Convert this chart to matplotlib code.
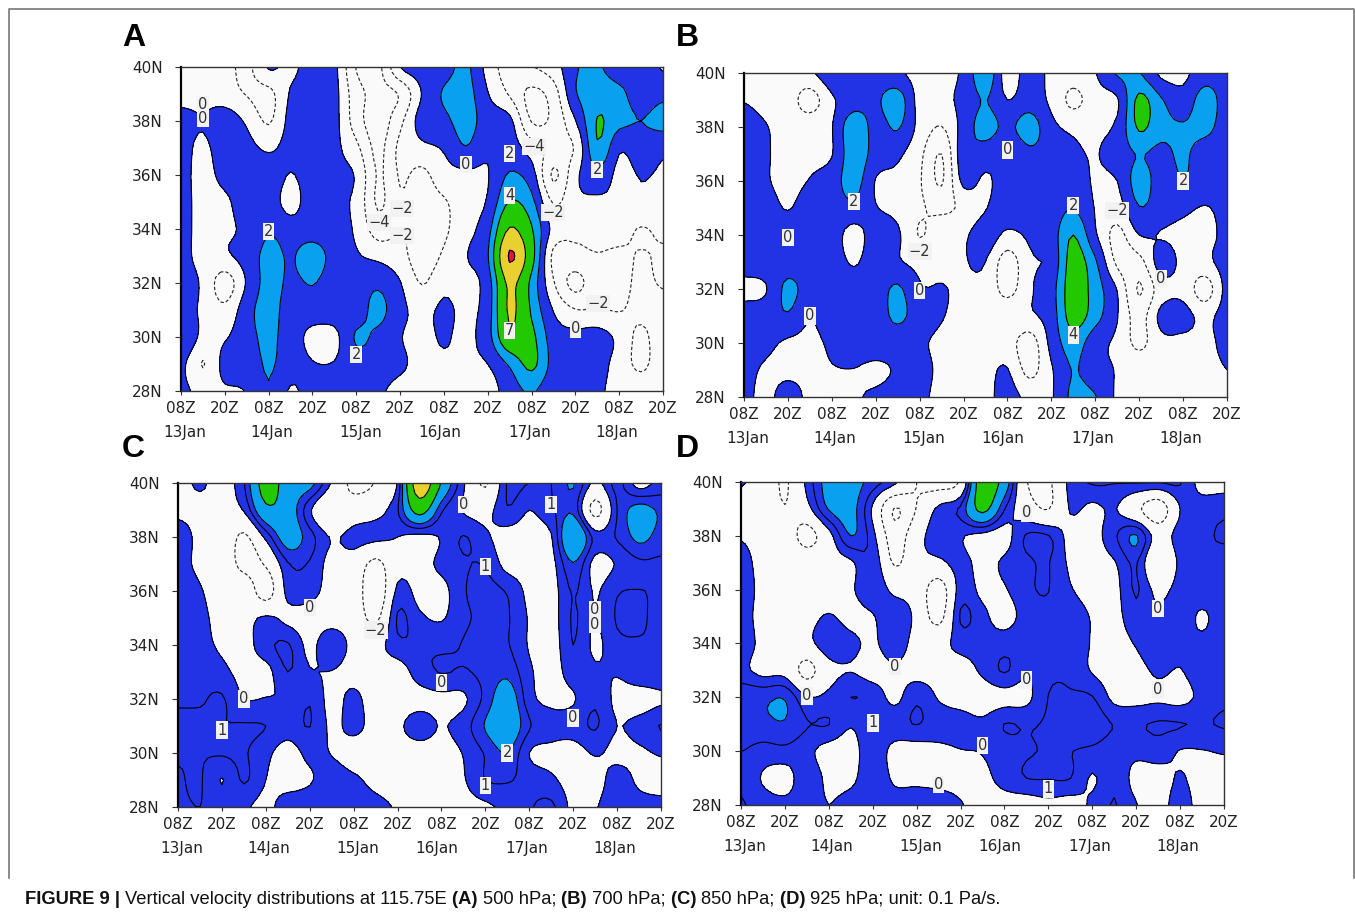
import numpy as np
import matplotlib
matplotlib.use('Agg')
import matplotlib.pyplot as plt
from matplotlib.lines import Line2D

# 6-hourly steps from 13Jan 08Z to 18Jan 20Z, 1 degree rows from 40N to 28N
lats = [40, 39, 38, 37, 36, 35, 34, 33, 32, 31, 30, 29, 28]
steps = list(range(23))
hour_labels = ['08Z', '20Z'] * 6
lat_ticks = [28, 30, 32, 34, 36, 38, 40]
day_labels = ['13Jan', '14Jan', '15Jan', '16Jan', '17Jan', '18Jan']
day_steps = [0.15, 4.15, 8.2, 11.8, 15.9, 19.9]

panel_a = [
    [-.5, -.8, -1.2, -2.5, .2, -.5, 1, .5, -4.1, -4.5, 0, 1, 1.2, 2.4, -.7, -3, -2.1, -1, 1.8, 2.2, 1, 1, -.2],
    [-.5, -.5, -1, -2.1, -2.6, .2, 1, .6, -3.2, -4.5, -3.8, .1, 2.2, 2.8, .1, -2.2, -4.5, -3, 1.8, 3, 2.5, 1, 1.5],
    [.5, .1, 1, -.3, -2.2, .6, 1, .6, -3, -5, -2.5, .9, 1.5, 2.8, 1, .5, -4.1, -3.5, -.1, 4.1, 2.6, 2, 2.7],
    [.5, -.3, .8, .6, -.3, .7, 1, .5, -1.5, -4.5, -1.5, -.5, .2, 1.9, .3, 1, -1, -2.5, -1.8, 3.7, .3, 1, .4],
    [.5, -.5, .5, 1, 1.2, -.1, 1, .5, -.2, -4.2, -1.8, -2.5, -.8, -.4, -.1, 2.2, .9, -4.3, -.5, 1.4, -.5, .1, -.2],
    [.5, -.5, -.3, .9, 1.2, -.8, 1.2, .5, -.5, -4.3, -2.2, -2.7, -2.2, -.8, .2, 4.1, 2.6, -2.2, -.5, -.4, -.3, -.3, -.3],
    [.5, -.5, -.3, .4, 1.8, 1, 1, .7, -.3, -3, -2, -2.5, -2.3, -.6, 1.2, 7.2, 4.2, -.6, -1.6, -1.2, -1.3, -2.1, -1.6],
    [.5, -.5, -.3, .8, 2.6, 1.8, 3, 1.2, .2, -.5, -1.3, -3, -1.7, -.1, 1.8, 10.3, 5, -2.5, -2.5, -2.1, -2.3, -1.9, -2.2],
    [.7, -.3, -3, .2, 2.7, 1.6, 2.1, 1, 1, 1.6, .1, -2.1, -.5, -.6, 1, 7.6, 3.4, -1.8, -4.6, -2.5, -2.6, -1.6, -2.2],
    [.7, -.3, -1.5, 1.2, 2.8, 1, 1, 1, 1, 2.6, .5, -.5, .3, -.3, 1, 7.4, 3.7, -.1, -1.9, -1.8, -2.1, -1.4, -1],
    [2.1, -.5, -.2, 1.3, 2.4, 1, -.5, -.5, 2.2, 1.5, .1, -.5, .2, -.4, 1.2, 6.3, 4.6, 1, .6, .8, -.5, -2.5, -.5],
    [.5, -2.1, .6, 1, 2.2, 1, .1, .1, 1.2, 1, .3, -.5, -.3, -.2, 0, 2.3, 4.5, 1.3, .7, .6, -.7, -2.5, -.5],
    [.4, -.5, -.2, .1, 1.9, -.2, .8, 1, 1, .3, -.5, -.5, -.5, -.5, -.9, 1, 2.2, .6, .5, .3, -.6, -.5, -.3],
]

panel_b = [
    [-.8, -.8, -.8, -.3, 1.3, 1.8, 1, .3, -.7, -.7, .4, 3.5, -1, 1, -.5, -1, -.1, 2.2, 2.1, -.4, -.4, 1, 1],
    [-.1, -.7, -1, -2.9, -.3, 1, 1.6, 3, -.7, -.6, .6, 2.1, 0, 1, -.4, -2.5, -.8, -.2, 4.5, 2.2, .7, 3, 1],
    [1, .1, -.7, -.6, -.1, 3.5, 1.2, 2.2, -.6, -2.05, .8, 2.8, 1.5, 3, .5, -.4, -.4, .4, 4.3, 2.6, 2.2, 2.6, 1],
    [1, .2, -.7, -.5, -.1, 3.3, 1.1, .4, -1.5, -4, 1.3, 1, 0, 1.5, 1.2, .4, -.1, 1, 2.1, 1.5, 2.3, 1, 1],
    [1, .2, -.6, .1, 1, 2.9, -.1, -.5, -1.8, -4.2, .5, -.3, 1, 1, 1, 1, -.2, 0, 2.9, 1.1, 1.9, 1, 1],
    [1, .8, -.1, 1, 1, 1.5, .1, -.5, -1.7, -2.5, -1.5, -.1, 1, 1, 1, 1.95, -.1, -.8, 1.9, 1, .4, -.1, .5],
    [1, 1, 1, 1, 1, -.8, 1, .3, -2.1, -.6, -.3, 1, -.4, .3, 1, 4, .3, -2.6, 0, -.1, -.5, -.5, .4],
    [1, 1, 1, 1, 1, -.2, 1, .2, -.5, -.5, -.1, 0, -3, -.3, .5, 5, 2.3, -2.4, -2.7, .9, -.5, -.5, .8],
    [-.6, -.1, 2.5, 1, 1, 1, 1, 2.3, .2, .1, -.3, -.5, -2.7, -.3, 1.2, 5.2, 3, -.1, -4.2, -.9, -.6, -3, .6],
    [1, 1, 1.8, .1, 1, 1, 1, 2.4, 1, .1, -.4, -.5, -.4, -.3, 1, 5, 2.8, .1, -2.8, .5, .6, -.5, .8],
    [1, .5, -.3, -.4, .3, 1, 1, .8, .3, -.4, -.5, -.6, -1, -3, .6, 3, .7, -.4, -2.5, -.5, -.4, -.4, .4],
    [.6, -.3, -.5, -.4, -.1, -.05, -.4, .2, .6, -.4, -.5, -.5, .1, -2.6, -.2, 2.1, .7, -.1, -.5, -.4, -.4, -.4, 0],
    [.5, -.5, .9, -.5, -.6, -.2, .3, .7, .4, -.5, -.5, -.5, .7, -.5, -.2, 2.5, 2.1, -.3, -.5, -.5, -.5, -.5, -.1],
]

panel_c = [
    [-.5, .2, -.5, .9, 5, 3, 2.5, -.1, -2.5, -1.9, .1, 9, 3.8, .2, -2.2, 1.1, 1, 1, 2.1, -.3, 1.3, -.5, .4],
    [-.5, -.5, -.5, .1, 3.5, 3, .2, -1.9, -1, -.5, .9, 5, 1.2, -.1, -.5, .9, 0, .8, 1.7, -2.6, 1, 2.5, 1.8],
    [1, -.5, -.5, -2.3, .3, 2.8, 1.4, -.1, .4, .3, 0, -.4, .1, 1.05, .2, -.5, -.5, -.1, 3.9, .6, 1.1, 2.3, 1.6],
    [.5, -.3, -.5, -2.6, -1.8, .9, .9, -.5, -.7, -2.5, -.5, -.5, .3, .9, .9, -.4, -.5, -.4, 1.9, -.4, .1, .8, .8],
    [.9, .1, -.5, -.5, -2.9, .4, .4, -.5, -.7, -3.5, .3, -.4, -.4, .9, 1.3, .9, -.3, -.5, 1.1, -.1, .9, 1.02, .9],
    [.7, .3, -.4, -.5, .2, -.3, -.5, -.6, -.8, -2.4, 1.1, .2, -.1, .8, 1.2, 1.1, -.1, -.5, 1.1, -.05, 1.1, 1.2, .6],
    [.8, .4, -.2, -.5, .7, 1.1, -.3, .9, -.4, -.5, .7, .9, .8, 1.05, 1.5, 1.1, -.1, -.6, 1, -.2, .7, .9, .9],
    [.8, .7, .3, -.4, -.4, 1, .1, -.05, -.5, -.6, -.6, .5, 1.05, .9, 1.3, 1.7, .2, -.5, .5, .2, .1, .8, .8],
    [.9, .9, 1.1, 0, .05, .1, .9, -.4, .3, -.7, -.6, -.4, -.3, -.2, 1.3, 2.9, .4, -.3, -.1, .8, -.3, -.6, -.2],
    [1.2, 1.2, 1, 1.1, 1, .5, 1.02, -.2, .3, -.4, -.2, .5, -.05, .5, 2.1, 3.3, 1.1, .5, .5, 1.1, 0, .4, 1.05],
    [1.1, 1.05, 1.1, 1.1, .3, -.5, .3, -.05, -.5, -.5, -.5, -.5, -.4, .05, 1.1, 2, 0, -.3, -.5, .1, -.3, -.2, .1],
    [.9, 1.1, -.05, 1.1, 0, -.5, -.1, .5, .2, -.3, -.5, -.5, -.5, -.1, 1, 1.1, .6, .2, -.5, -.5, .5, -.2, -.4],
    [.9, 1, .8, .2, -.3, .6, .7, .7, .6, .3, -.1, -.4, -.4, -.4, -.2, .3, .9, 1.2, -.3, -.1, .8, .4, .3],
]

panel_d = [
    [.1, -.6, -2.2, .3, 2.6, 2.6, 1.5, .3, -2, -2.8, -1.7, 5.5, 3, -1.9, -2.3, .4, 1.1, 1.05, 1.1, 1.1, 1.1, -.5, -.5],
    [-.5, -.5, -1.9, -.5, 2.1, 2.5, -.2, -4.1, -1.9, .3, 1.2, 4.6, 1.05, -1, -2.05, .1, -.3, .1, -1.5, -3.2, 0, .6, .8],
    [-.1, -.5, -.7, -2.7, -.5, 2, .4, -3, -.6, .5, .1, -.4, -.5, 1.1, 1.05, -.4, -.5, .8, 2.1, -.7, .6, .9, 1.05],
    [.5, -.5, -.7, -.6, -.6, -.2, .9, -2.2, -.5, -.3, .4, -.4, .2, .8, 1.05, -.2, -.5, -.1, 1.1, -1.9, .3, .8, .8],
    [.7, -.4, -.5, -.5, -.7, -.2, .9, -.4, -.7, -3, .5, -.3, -.1, .8, 1.02, .1, -.5, -.4, 1.1, -.4, .5, .8, .8],
    [.6, -.5, -.5, -.4, .1, -.4, -.1, .9, -.4, -2.6, 1.1, .3, -.5, .5, .8, .7, -.1, -.4, .7, .2, .8, -.2, .8],
    [.8, -.4, -.5, -.4, .7, .3, -.2, .7, -.5, -.5, .4, .4, .6, .8, .8, .8, -.1, -.5, .1, .9, .4, .3, .8],
    [.3, -.4, -.5, -2.6, -.5, -.05, -.5, -.2, -.5, -.5, -.5, .2, 1.1, .2, .8, .8, -.1, -.6, -.4, .2, -.05, .7, .8],
    [1.85, 1.75, 1.9, .1, .3, 1, .7, -.3, .8, -.1, -.5, -.6, -.4, -.3, 1.02, 1.1, 1.05, -.3, -.4, -.2, -.4, .3, .8],
    [1.85, 1.75, 1.9, 1.05, 1.02, .1, .9, .7, 1.02, .6, .5, .2, 1.02, .9, 1.1, 1.3, 1.6, .95, .9, 1.1, 1.05, .9, 1.1],
    [1.02, .6, .7, .3, -.5, -.5, .7, -.4, -.5, -.3, -.05, .05, .5, .9, 1.05, 1.02, .8, .5, .3, .5, -.05, -.05, .1],
    [.8, -.1, -.5, .7, -.3, -.3, .8, -.2, -.3, -.5, -.5, -.3, .4, 1, 1.05, 1.02, -.1, .8, -.4, -.5, .1, -.5, -.5],
    [1.1, .5, .3, .5, 0, .5, .8, .5, .7, .8, .1, -.5, -.5, -.6, -.3, -.5, .2, 1.05, .05, -.5, .5, -.5, -.5],
]

# contour labels: step, latitude, text
labels_a = [(1, 38.6, '0'), (1, 38.1, '0'), (13, 36.4, '0'), (18, 30.3, '0'), (4, 33.9, '2'), (8, 29.35, '2'),
            (15, 36.8, '2'), (15, 35.25, '4'), (15, 30.25, '7'), (19, 36.2, '2'), (10.1, 34.75, '−2'),
            (10.1, 33.75, '−2'), (9.05, 34.25, '−4'), (16.1, 37.05, '−4'), (17, 34.6, '−2'), (19.05, 31.25, '−2')]
labels_b = [(2, 33.9, '0'), (3, 31, '0'), (5, 35.25, '2'), (8, 31.95, '0'), (12, 37.15, '0'), (15, 35.1, '2'),
            (15, 30.3, '4'), (20, 36, '2'), (19, 32.4, '0'), (8, 33.4, '−2'), (17, 34.9, '−2')]
labels_c = [(3, 32, '0'), (2, 30.85, '1'), (6, 35.4, '0'), (13, 39.2, '0'), (17, 39.2, '1'), (14, 36.9, '1'),
            (12, 32.6, '0'), (15, 30, '2'), (14, 28.8, '1'), (18, 31.3, '0'), (19, 35.3, '0'), (19, 34.75, '0'),
            (9, 34.55, '−2')]
labels_d = [(3, 32.05, '0'), (6, 31.05, '1'), (7, 33.15, '0'), (9, 28.75, '0'), (11, 30.2, '0'), (13, 38.85, '0'),
            (13, 32.65, '0'), (14, 28.6, '1'), (19, 35.3, '0'), (19, 32.3, '0')]

fill_levels = [0, 2, 4, 7, 10, 100]
fill_colors = ['#2233e6', '#0aa0f0', '#22c800', '#e8d030', '#e0143c']

W, H = 1355, 914
fig = plt.figure(figsize=(W / 100, H / 100), dpi=100, facecolor='white')


# contour smoothing like the original plot package does it (cubic, through the grid values)
def csmooth_axis(z, n, axis):
    z = np.moveaxis(z, axis, 0)
    N = z.shape[0]
    pos = np.linspace(0, N - 1, (N - 1) * n + 1)
    i = np.minimum(pos.astype(int), N - 2)
    f = (pos - i).reshape(-1, *([1] * (z.ndim - 1)))
    p0 = z[np.maximum(i - 1, 0)]
    p1 = z[i]
    p2 = z[i + 1]
    p3 = z[np.minimum(i + 2, N - 1)]
    out = 0.5 * (2 * p1 + (p2 - p0) * f + (2 * p0 - 5 * p1 + 4 * p2 - p3) * f ** 2 + (3 * p1 - p0 - 3 * p2 + p3) * f ** 3)
    return np.moveaxis(out, 0, axis)


def draw_panel(box, z, line_levels, labels, letter, letter_xy):
    left, top, right, bottom = box
    ax = fig.add_axes([left / W, 1 - bottom / H, (right - left) / W, (bottom - top) / H])
    ax.set_facecolor('#fafafa')
    n = 5
    zs = csmooth_axis(csmooth_axis(np.array(z, dtype=float), n, 0), n, 1)
    xs = np.linspace(steps[0], steps[-1], (len(steps) - 1) * n + 1)
    ys = np.linspace(lats[0], lats[-1], (len(lats) - 1) * n + 1)
    ax.contourf(xs, ys, zs, levels=fill_levels, colors=fill_colors)
    ax.contour(xs, ys, zs, levels=line_levels, colors='black', linewidths=0.8, linestyles='solid')
    ax.contour(xs, ys, zs, levels=[-4, -2], colors='#222222', linewidths=0.8, linestyles=[(0, (3, 2))])
    for t, lat, s in labels:
        ax.text(t, lat, s, ha='center', va='center', fontsize=10.5, color='#333333', zorder=5,
                bbox=dict(facecolor='#f2f2f2', edgecolor='none', pad=0.8))
    ax.set_xlim(0, 22)
    ax.set_ylim(28, 40)
    ax.set_xticks(steps[::2])
    ax.set_xticklabels(hour_labels)
    ax.set_yticks(lat_ticks)
    ax.set_yticklabels([str(v) + 'N' for v in lat_ticks])
    ax.tick_params(axis='x', length=3, width=0.8, pad=4, labelsize=11, labelcolor='#222222', color='#333333')
    ax.tick_params(axis='y', length=4, width=0.8, pad=9, labelsize=11, labelcolor='#222222', color='#333333')
    for sp in ax.spines.values():
        sp.set_linewidth(1.0)
        sp.set_color('#333333')
    ax.spines['left'].set_linewidth(1.6)
    ax.spines['left'].set_color('black')
    for d, s in zip(day_steps, day_labels):
        ax.text(d, -0.127, s, transform=ax.get_xaxis_transform(), ha='center', va='center',
                fontsize=11, color='#222222')
    fig.text(letter_xy[0] / W, 1 - letter_xy[1] / H, letter, fontsize=23, fontweight='bold',
             family='Liberation Sans', ha='left', va='center', color='black')


draw_panel((181, 67, 663, 391), panel_a, [0, 2, 4, 7, 10], labels_a, 'A', (122, 38))
draw_panel((744, 73, 1227, 397), panel_b, [0, 2, 4, 7, 10], labels_b, 'B', (676, 38))
draw_panel((178, 483, 661, 807), panel_c, [0, 1, 2, 4, 7, 10], labels_c, 'C', (122, 449))
draw_panel((741, 482, 1224, 805), panel_d, [0, 1, 2, 4, 7, 10], labels_d, 'D', (676, 449))

# outer frame, open at the bottom
frame_x = [9 / W, 9 / W, 1354 / W, 1354 / W]
frame_y = [1 - 878 / H, 1 - 9 / H, 1 - 9 / H, 1 - 878 / H]
fig.add_artist(Line2D(frame_x, frame_y, color='#777777', linewidth=1.2))

# caption, regular and bold pieces one after the other
caption = [('FIGURE 9 | ', True), ('Vertical velocity distributions at 115.75E ', False), ('(A) ', True),
           ('500 hPa; ', False), ('(B) ', True), ('700 hPa; ', False), ('(C) ', True), ('850 hPa; ', False),
           ('(D) ', True), ('925 hPa; unit: 0.1 Pa/s.', False)]
x = 25
rend = fig.canvas.get_renderer()
for s, is_bold in caption:
    t = fig.text(x / W, 1 - 899 / H, s, fontsize=13.2, family='Liberation Sans',
                 fontweight='bold' if is_bold else 'normal', ha='left', va='center', color='#111111')
    # trailing spaces may not count in the extent, so measure against a final dot
    t.set_text(s + '.')
    w_all = t.get_window_extent(rend).width
    t.set_text('.')
    w_dot = t.get_window_extent(rend).width
    t.set_text(s)
    x += w_all - w_dot

fig.savefig('out.png', dpi=100)
